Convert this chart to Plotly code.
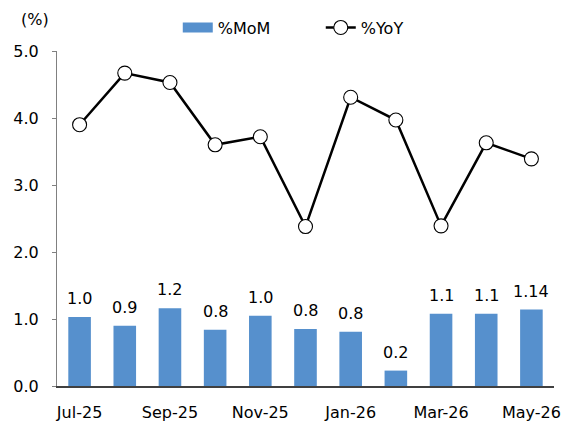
import plotly.graph_objects as go

# datos
meses = ["Jul-25", "Aug-25", "Sep-25", "Oct-25", "Nov-25", "Dec-25",
         "Jan-26", "Feb-26", "Mar-26", "Apr-26", "May-26"]
mom = [1.03, 0.90, 1.16, 0.84, 1.05, 0.85, 0.81, 0.23, 1.08, 1.08, 1.14]
mom_etiquetas = ["1.0", "0.9", "1.2", "0.8", "1.0", "0.8", "0.8", "0.2", "1.1", "1.1", "1.14"]
yoy = [3.90, 4.67, 4.53, 3.60, 3.72, 2.38, 4.31, 3.97, 2.39, 3.63, 3.39]
y_ticks = [0, 1, 2, 3, 4, 5]
y_ticktext = ["0.0", "1.0", "2.0", "3.0", "4.0", "5.0"]

fuente = "DejaVu Sans"
azul = "#5690CD"

fig = go.Figure()

# barras %MoM
fig.add_trace(go.Bar(
    x=meses, y=mom, name="%MoM", showlegend=False,
    marker=dict(color=azul, line=dict(width=0)),
))

# entrada de leyenda para las barras (rectangulo ancho)
fig.add_trace(go.Scatter(
    x=[None], y=[None], name="%MoM", mode="lines",
    line=dict(color=azul, width=11),
))

# linea %YoY
fig.add_trace(go.Scatter(
    x=meses, y=yoy, name="%YoY", mode="lines+markers",
    line=dict(color="black", width=2.5),
    marker=dict(symbol="circle", size=14, color="white",
                line=dict(color="black", width=1.1)),
    cliponaxis=False,
))

# etiquetas de las barras
for mes, valor, etiqueta in zip(meses, mom, mom_etiquetas):
    fig.add_annotation(x=mes, y=valor, text=etiqueta, showarrow=False,
                       yanchor="bottom", yshift=7,
                       font=dict(size=16, family=fuente, color="black"))

# la pagina agrega 8px de margen, se compensa en los margenes
fig.update_layout(
    width=572, height=426,
    margin=dict(l=49, r=26, t=43, b=48, autoexpand=False),
    plot_bgcolor="white", paper_bgcolor="white",
    font=dict(family=fuente, size=16, color="black"),
    bargap=0.5,
    showlegend=True,
    legend=dict(orientation="h", x=0.243, xanchor="left", y=1.07, yanchor="middle",
                font=dict(size=16), entrywidth=98, entrywidthmode="pixels",
                traceorder="normal"),
)

fig.update_xaxes(
    type="category", range=[-0.5, len(meses) - 0.5],
    tickmode="array", tickvals=meses[::2],
    showline=True, linecolor="#404040", linewidth=1.5,
    ticks="", showgrid=False, tickfont=dict(size=16),
    automargin=False, ticklabelstandoff=11,
)
fig.update_yaxes(
    range=[0, 5], tickmode="array", tickvals=y_ticks, ticktext=y_ticktext,
    showline=True, linecolor="#808080", linewidth=1,
    ticks="outside", ticklen=4, tickcolor="#808080",
    showgrid=False, zeroline=False, tickfont=dict(size=16),
    automargin=False, ticklabelstandoff=10,
)

# unidad del eje
fig.add_annotation(text="(%)", xref="paper", yref="paper", x=-0.044, y=1.093,
                   xanchor="center", yanchor="middle", showarrow=False,
                   font=dict(size=16, family=fuente))

fig.write_html("out.html")
